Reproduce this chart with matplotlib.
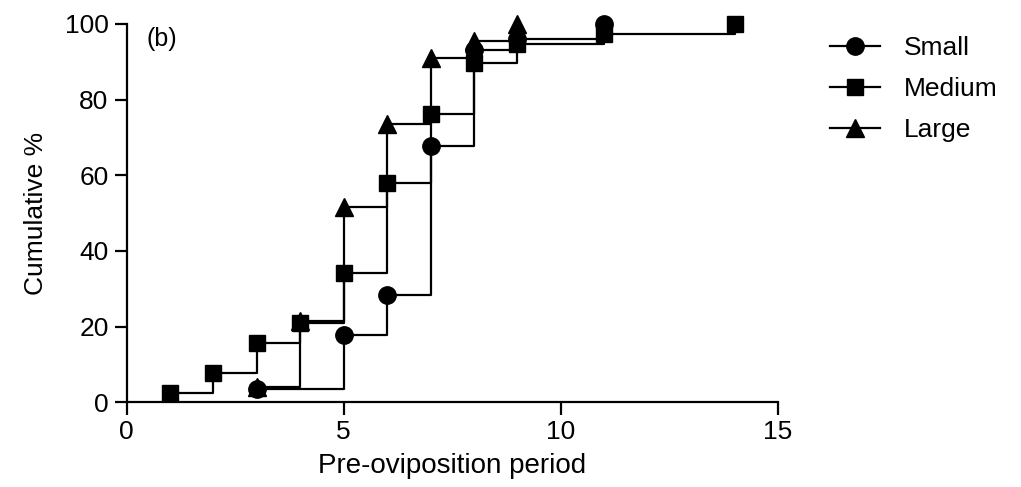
import matplotlib
matplotlib.use("Agg")
import matplotlib.pyplot as plt

plt.rcParams['font.family'] = ['Liberation Sans', 'DejaVu Sans']

# --- dados ---
small_x = [3, 5, 6, 7, 8, 9, 11]
small_y = [3.4, 17.7, 28.3, 67.8, 93.0, 96.1, 100]

medium_x = [1, 2, 3, 4, 5, 6, 7, 8, 9, 11, 14]
medium_y = [2.4, 7.8, 15.6, 21.0, 34.1, 57.9, 76.2, 89.6, 94.7, 97.4, 100]

large_x = [3, 4, 5, 6, 7, 8, 9]
large_y = [4.1, 21.5, 51.5, 73.5, 90.9, 95.6, 100]

x_ticks = [0, 5, 10, 15]
y_ticks = [0, 20, 40, 60, 80, 100]

fig = plt.figure(figsize=(10.21, 4.87), dpi=100)
ax = fig.add_axes([0.124, 0.174, 0.638, 0.777])

series = [
    (small_x, small_y, 'o', 'Small', 12.5),
    (medium_x, medium_y, 's', 'Medium', 12),
    (large_x, large_y, '^', 'Large', 12.5),
]
for xs, ys, mk, lab, ms in series:
    ax.plot(xs, ys, drawstyle='steps-post', color='black', linewidth=1.6,
            marker=mk, markersize=ms, label=lab, clip_on=False)

ax.set_xlim(0, 15)
ax.set_ylim(0, 100)
ax.set_xticks(x_ticks)
ax.set_yticks(y_ticks)
ax.spines['top'].set_visible(False)
ax.spines['right'].set_visible(False)
ax.spines['left'].set_linewidth(1.6)
ax.spines['bottom'].set_linewidth(1.6)
ax.tick_params(direction='out', length=9, width=1.6, labelsize=19, pad=4)

ax.set_xlabel('Pre-oviposition period', fontsize=20, labelpad=6)
ax.set_ylabel('Cumulative %', fontsize=19, labelpad=12)
ax.text(0.03, 0.96, '(b)', transform=ax.transAxes, fontsize=18, va='center')

fig.legend(loc='upper left', bbox_to_anchor=(0.79, 0.975), frameon=False,
           fontsize=19, handlelength=1.9, labelspacing=0.65, handletextpad=0.9)

fig.savefig('out.png', dpi=100)
